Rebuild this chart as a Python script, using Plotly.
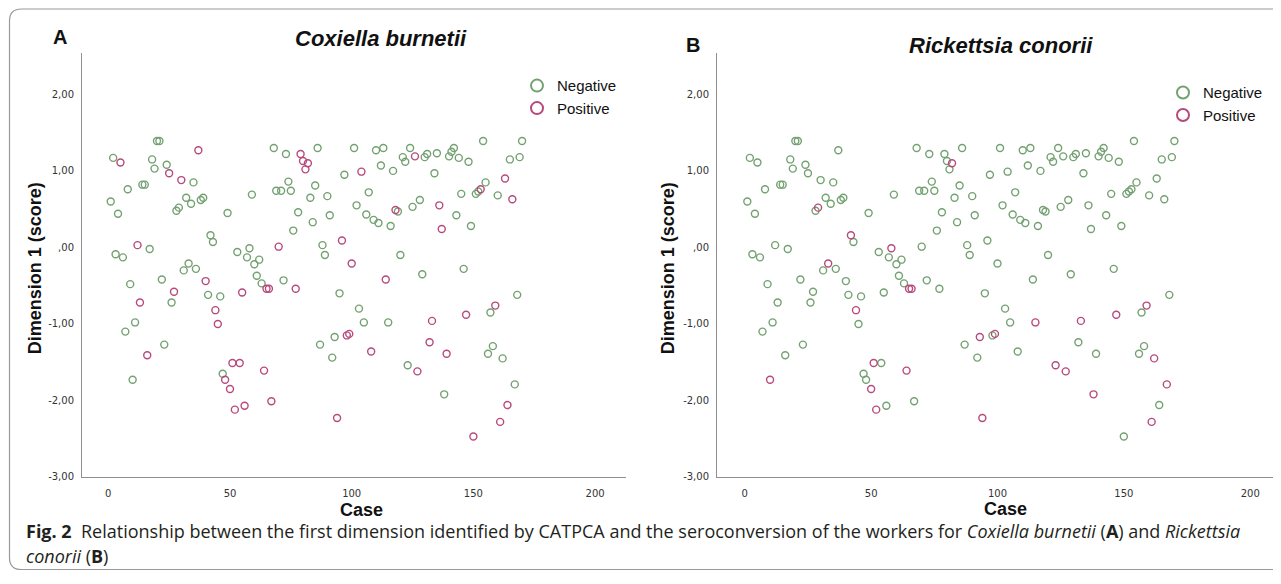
import plotly.graph_objects as go

# ---------------- data ----------------
cases = list(range(1, 171))
scores = [
    0.60, 1.17, -0.09, 0.44, 1.11, -0.13, -1.10, 0.76, -0.48, -1.73,
    -0.98, 0.03, -0.72, 0.82, 0.82, -1.41, -0.02, 1.15, 1.03, 1.39,
    1.39, -0.42, -1.27, 1.08, 0.97, -0.72, -0.58, 0.48, 0.52, 0.88,
    -0.30, 0.65, -0.21, 0.57, 0.85, -0.28, 1.27, 0.62, 0.65, -0.44,
    -0.62, 0.16, 0.07, -0.82, -1.00, -0.64, -1.65, -1.73, 0.45, -1.85,
    -1.51, -2.12, -0.06, -1.51, -0.59, -2.07, -0.13, -0.01, 0.69, -0.22,
    -0.37, -0.16, -0.47, -1.61, -0.54, -0.54, -2.01, 1.30, 0.74, 0.01,
    0.74, -0.43, 1.22, 0.86, 0.74, 0.22, -0.54, 0.46, 1.22, 1.13,
    1.02, 1.10, 0.65, 0.33, 0.81, 1.30, -1.27, 0.03, -0.10, 0.67,
    0.42, -1.44, -1.17, -2.23, -0.60, 0.09, 0.95, -1.15, -1.13, -0.21,
    1.30, 0.55, -0.80, 0.99, -0.98, 0.43, 0.72, -1.36, 0.36, 1.27,
    0.32, 1.07, 1.30, -0.42, -0.98, 0.28, 1.00, 0.49, 0.47, -0.10,
    1.18, 1.12, -1.54, 1.30, 0.53, 1.19, -1.62, 0.62, -0.35, 1.18,
    1.22, -1.24, -0.96, 0.97, 1.23, 0.55, 0.24, -1.92, -1.39, 1.19,
    1.25, 1.30, 0.42, 1.17, 0.70, -0.28, -0.88, 1.12, 0.28, -2.47,
    0.70, 0.73, 0.76, 1.39, 0.85, -1.39, -0.85, -1.29, -0.76, 0.68,
    -2.28, -1.45, 0.90, -2.06, 1.15, 0.63, -1.79, -0.62, 1.18, 1.39,
]
positive_coxiella = [5, 12, 13, 16, 25, 27, 30, 37, 40, 44, 45, 48, 50, 51, 52, 54,
                     55, 56, 64, 65, 66, 67, 70, 77, 79, 80, 81, 82, 94, 96, 98, 99,
                     100, 104, 108, 114, 118, 126, 127, 132, 133, 136, 137, 139, 147,
                     150, 153, 159, 161, 163, 164, 166]
positive_rickettsia = [10, 29, 33, 42, 44, 50, 51, 52, 58, 64, 65, 66, 82, 93, 94, 99,
                       115, 123, 127, 133, 138, 147, 159, 161, 162, 167]
ytick_vals = [-3, -2, -1, 0, 1, 2]
ytick_text = ["-3,00", "-2,00", "-1,00", ",00", "1,00", "2,00"]
xtick_vals = [0, 50, 100, 150, 200]
groups = ["Negative", "Positive"]

# ---------------- style ----------------
# the page body has an 8px margin; keep the figure inside the 1281x584 window
OFF = 8
W, H = 1265, 568
GREEN = "#73a171"
PINK = "#b7497c"
AXIS = "#8f8f8f"
TICKFONT = dict(family="DejaVu Sans", size=10, color="#333333")
ARIAL = "Liberation Sans, Arial, sans-serif"


def xp(px):
    return (px - OFF) / W


def yp(py):
    return 1 - (py - OFF) / H


fig = go.Figure()

panels = [
    dict(pos=positive_coxiella, xaxis="x", yaxis="y", legend="legend"),
    dict(pos=positive_rickettsia, xaxis="x2", yaxis="y2", legend="legend2"),
]
for p in panels:
    pos = set(p["pos"])
    for g, col in zip(groups, [GREEN, PINK]):
        want_pos = g == "Positive"
        xs = [c for c in cases if (c in pos) == want_pos]
        ys = [s for c, s in zip(cases, scores) if (c in pos) == want_pos]
        fig.add_trace(go.Scatter(
            x=xs, y=ys, mode="markers", name=g,
            xaxis=p["xaxis"], yaxis=p["yaxis"], legend=p["legend"],
            marker=dict(symbol="circle-open", size=7, color=col,
                        line=dict(width=1.4, color=col)),
            hoverinfo="x+y",
        ))

ydom = [yp(482), yp(53)]
common_x = dict(showline=True, linecolor=AXIS, linewidth=1, showgrid=False,
                zeroline=False, ticks="", tickvals=xtick_vals, tickfont=TICKFONT,
                ticklabelstandoff=7)
common_y = dict(showline=True, linecolor=AXIS, linewidth=1, showgrid=False,
                zeroline=False, ticks="", tickvals=ytick_vals, ticktext=ytick_text,
                tickfont=TICKFONT, range=[-3, 2.547], domain=ydom,
                ticklabelstandoff=5)

legend_common = dict(font=dict(family=ARIAL, size=15, color="#111111"),
                     bgcolor="rgba(0,0,0,0)", itemsizing="constant",
                     tracegroupgap=0, xanchor="left", yanchor="top")

x2_right = min(1.0, xp(1278))
x2_right_px = x2_right * W + OFF
fig.update_layout(
    width=W, height=H,
    margin=dict(l=0, r=0, t=0, b=0),
    paper_bgcolor="white", plot_bgcolor="white",
    showlegend=True,
    xaxis=dict(**common_x, domain=[xp(82), xp(626)], range=[-10.8, 212.7]),
    yaxis=dict(**common_y, anchor="x"),
    xaxis2=dict(**common_x, domain=[xp(717), x2_right],
                range=[-11.0, -11.0 + (x2_right_px - 717) / 2.527], anchor="y2"),
    yaxis2=dict(**common_y, anchor="x2"),
    legend=dict(**legend_common, x=xp(517), y=yp(70)),
    legend2=dict(**legend_common, x=xp(1163), y=yp(77)),
)

ann = []
# panel letters and titles
ann.append(dict(text="<b>A</b>", x=xp(60), y=yp(37)))
ann.append(dict(text="<b><i>Coxiella burnetii</i></b>", x=xp(381), y=yp(39), size=22))
ann.append(dict(text="<b>B</b>", x=xp(693), y=yp(45)))
ann.append(dict(text="<b><i>Rickettsia conorii</i></b>", x=xp(1001), y=yp(46), size=22))
# axis titles
ann.append(dict(text="<b>Case</b>", x=xp(361), y=yp(515), size=18))
ann.append(dict(text="<b>Case</b>", x=xp(1005), y=yp(514), size=18))
ann.append(dict(text="<b>Dimension 1 (score)</b>", x=xp(35), y=yp(271), size=18, angle=-90))
ann.append(dict(text="<b>Dimension 1 (score)</b>", x=xp(668), y=yp(271), size=18, angle=-90))

for a in ann:
    fig.add_annotation(
        text=a["text"], x=a["x"], y=a["y"], xref="paper", yref="paper",
        xanchor="center", yanchor="middle", showarrow=False,
        textangle=a.get("angle", 0),
        font=dict(family=ARIAL, size=a.get("size", 20), color="#111111"),
    )

# caption
cap_font = dict(family="Open Sans", size=18, color="#231f20")
fig.add_annotation(
    text="<b>Fig. 2</b>\u00a0\u00a0Relationship between the first dimension identified by CATPCA "
         "and the seroconversion of the workers for <i>Coxiella burnetii</i> (<b>A</b>) "
         "and <i>Rickettsia</i>",
    x=xp(24), y=yp(537), xref="paper", yref="paper", xanchor="left",
    yanchor="middle", showarrow=False, font=cap_font)
fig.add_annotation(
    text="<i>conorii</i> (<b>B</b>)",
    x=xp(24), y=yp(562), xref="paper", yref="paper", xanchor="left",
    yanchor="middle", showarrow=False, font=cap_font)

# rounded frame (bottom edge kept just inside the figure)
L, T, B, R, r = 9.5, 9, 575.5, 1300, 12
path = (f"M {xp(R)},{yp(T)} L {xp(L + r)},{yp(T)} Q {xp(L)},{yp(T)} {xp(L)},{yp(T + r)} "
        f"L {xp(L)},{yp(B - r)} Q {xp(L)},{yp(B)} {xp(L + r)},{yp(B)} L {xp(R)},{yp(B)}")
fig.add_shape(type="path", path=path, xref="paper", yref="paper",
              line=dict(color="#9a9a9a", width=1.2))

fig.write_html("out.html")
